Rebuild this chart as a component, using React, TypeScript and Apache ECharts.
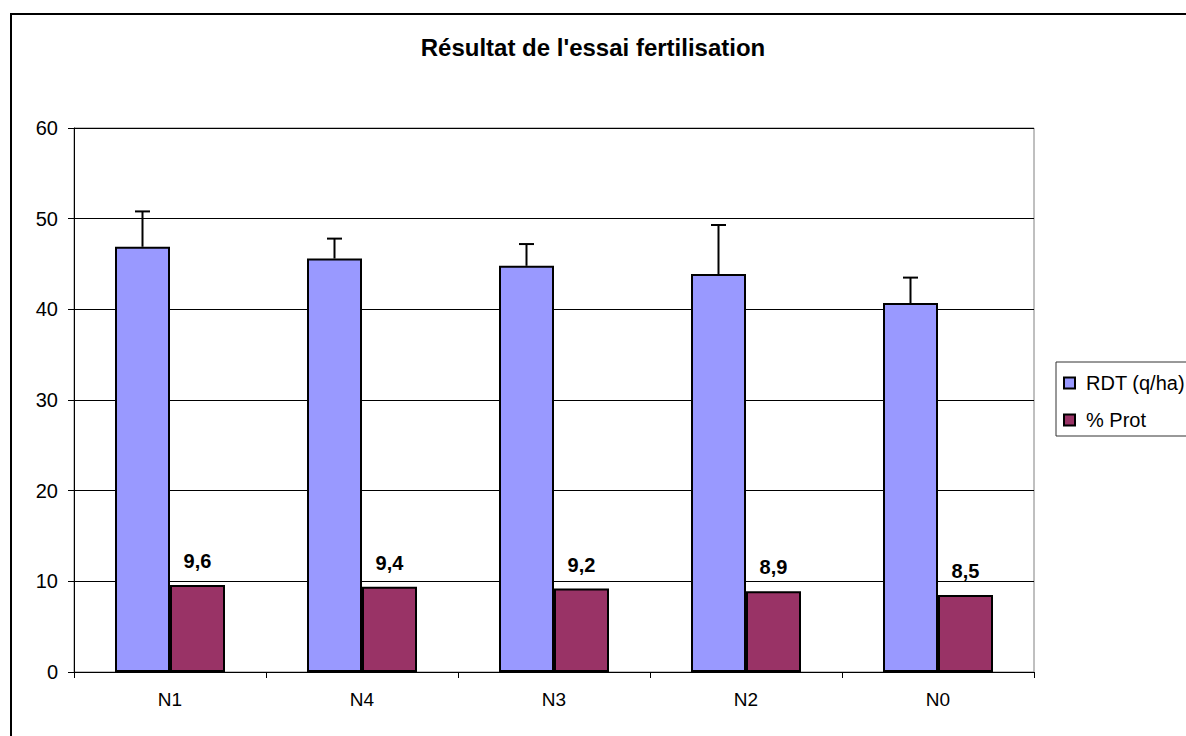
import React, { useEffect, useRef } from "react";
import * as echarts from "echarts";

const categories = ["N1", "N4", "N3", "N2", "N0"];
const rdtValues = [46.9, 45.6, 44.8, 43.9, 40.7];
const rdtErrors = [3.9, 2.2, 2.4, 5.4, 2.8];
const protValues = [9.6, 9.4, 9.2, 8.9, 8.5];
const yTicks = { min: 0, max: 60, interval: 10 };

const FONT = "'Liberation Sans', Arial, Helvetica, sans-serif";
const BAR_W = 55;

export default function App() {
  const ref = useRef<HTMLDivElement>(null);

  useEffect(() => {
    if (!ref.current) return;
    const chart = echarts.init(ref.current, null, { renderer: "svg" });

    const errData = categories.map((_, i) => [i, rdtValues[i], rdtValues[i] + rdtErrors[i]]);

    chart.setOption({
      animation: false,
      backgroundColor: "#ffffff",
      textStyle: { fontFamily: FONT },
      title: {
        text: "Résultat de l'essai fertilisation",
        left: "center",
        top: 35,
        padding: 0,
        textStyle: { fontFamily: FONT, fontSize: 24, fontWeight: "bold", color: "#000" },
      },
      legend: {
        orient: "vertical",
        left: 1063,
        top: 372,
        padding: 0,
        itemGap: 15,
        itemWidth: 11,
        itemHeight: 11,
        icon: "rect",
        textStyle: { fontFamily: FONT, fontSize: 20, color: "#000", lineHeight: 22, padding: [0, 0, 0, 6] },
        data: ["RDT (q/ha)", "% Prot"],
      },
      grid: {
        left: 74,
        right: 152,
        top: 128,
        bottom: 64,
        show: true,
        borderColor: "#808080",
        borderWidth: 1,
        backgroundColor: "transparent",
      },
      xAxis: {
        type: "category",
        data: categories,
        axisLine: { show: true, lineStyle: { color: "#000", width: 1 } },
        axisTick: { show: true, length: 6, alignWithLabel: false, lineStyle: { color: "#000" } },
        axisLabel: { fontFamily: FONT, fontSize: 19, color: "#000", margin: 18 },
        splitLine: { show: false },
      },
      yAxis: {
        type: "value",
        min: yTicks.min,
        max: yTicks.max,
        interval: yTicks.interval,
        axisLine: { show: true, lineStyle: { color: "#000", width: 1 } },
        axisTick: { show: true, length: 6, lineStyle: { color: "#000" } },
        axisLabel: { fontFamily: FONT, fontSize: 20, color: "#000", margin: 16 },
        splitLine: { show: true, lineStyle: { color: "#000", width: 1 } },
      },
      graphic: [
        {
          type: "rect",
          silent: true,
          shape: { x: 11, y: 14, width: 1300, height: 800 },
          style: { fill: "none", stroke: "#000", lineWidth: 2 },
          z: 100,
        },
        {
          type: "rect",
          silent: true,
          shape: { x: 1056, y: 362, width: 200, height: 74 },
          style: { fill: "none", stroke: "#333", lineWidth: 1 },
          z: 100,
        },
      ],
      series: [
        {
          name: "RDT (q/ha)",
          type: "bar",
          data: rdtValues,
          barWidth: BAR_W,
          barGap: "0%",
          itemStyle: { color: "#9999FF", borderColor: "#000", borderWidth: 2 },
          z: 2,
        },
        {
          name: "% Prot",
          type: "bar",
          data: protValues,
          barWidth: BAR_W,
          barGap: "0%",
          itemStyle: { color: "#993366", borderColor: "#000", borderWidth: 2 },
          label: {
            show: true,
            position: "top",
            distance: 14,
            fontFamily: FONT,
            fontSize: 20,
            fontWeight: "bold",
            color: "#000",
            formatter: (p: any) => String(p.value).replace(".", ","),
          },
          z: 2,
        },
        {
          name: "err",
          type: "custom",
          data: errData,
          encode: { x: 0, y: [1, 2] },
          z: 3,
          renderItem: (params: any, api: any) => {
            const i = api.value(0);
            const base = api.coord([i, api.value(1)]);
            const top = api.coord([i, api.value(2)]);
            const x = base[0] - BAR_W / 2;
            return {
              type: "group",
              children: [
                {
                  type: "line",
                  shape: { x1: x, y1: base[1], x2: x, y2: top[1] },
                  style: { stroke: "#000", lineWidth: 2 },
                },
                {
                  type: "line",
                  shape: { x1: x - 7.5, y1: top[1], x2: x + 7.5, y2: top[1] },
                  style: { stroke: "#000", lineWidth: 2 },
                },
              ],
            };
          },
        },
      ],
    });

    return () => chart.dispose();
  }, []);

  return (
    <div
      ref={ref}
      style={{ position: "absolute", left: 0, top: 0, width: 1186, height: 736, background: "#fff" }}
    />
  );
}
